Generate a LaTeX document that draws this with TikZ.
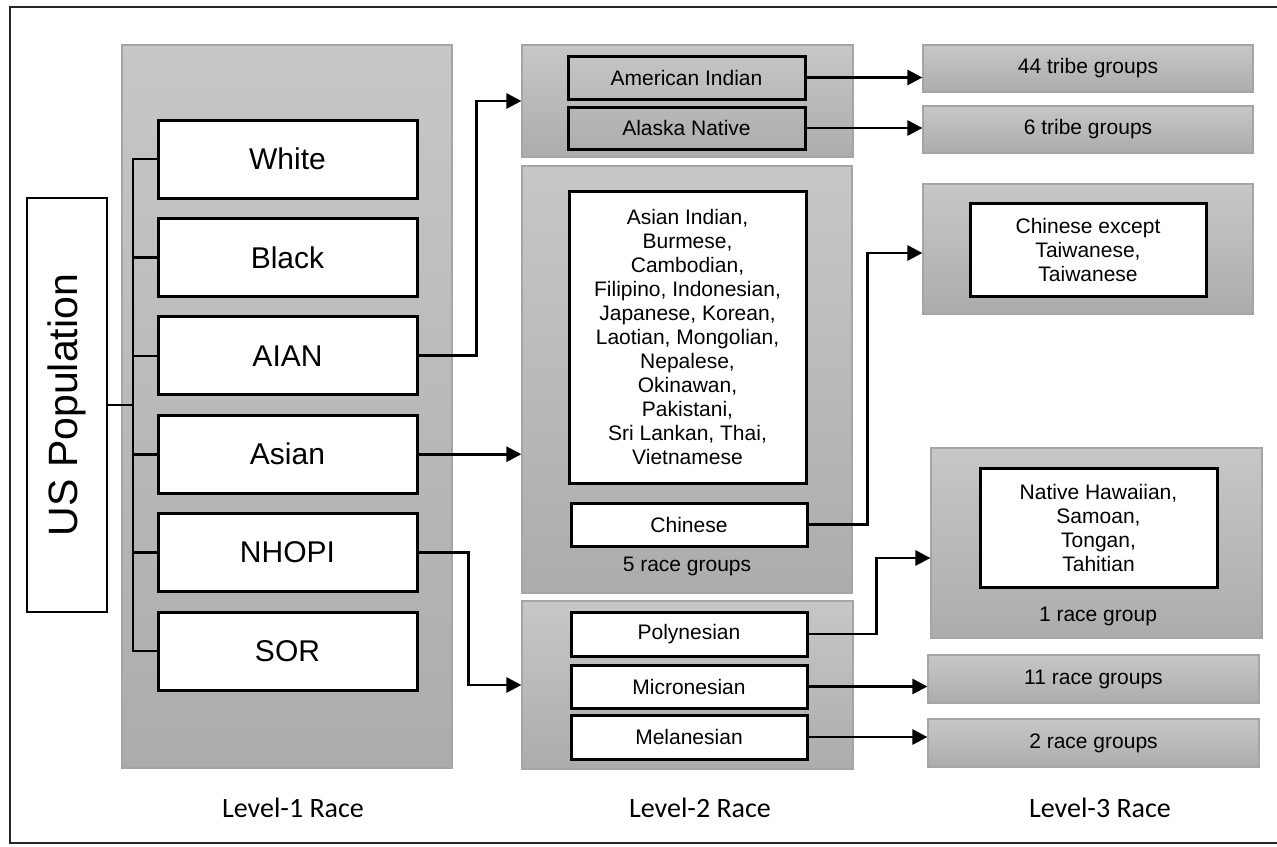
\documentclass[tikz,border=0pt]{standalone}
\usepackage{fontspec}
\setmainfont{Liberation Sans}
\newfontfamily\calib{Carlito}
\usetikzlibrary{arrows.meta,calc}
\definecolor{ptop}{RGB}{199,199,199}
\definecolor{pbot}{RGB}{172,172,172}
\definecolor{pborder}{RGB}{165,165,165}
\tikzset{
  panel/.style={rectangle, top color=ptop, bottom color=pbot, draw=pborder, line width=1.2pt, inner sep=0pt},
  wbox/.style={rectangle, draw=black, fill=white, line width=3pt, inner sep=0pt, align=center, font=\fontsize{21}{24}\selectfont},
  gbox/.style={rectangle, draw=black, line width=3pt, inner sep=0pt, align=center, font=\fontsize{21}{24}\selectfont},
  bigbox/.style={wbox, minimum width=259pt, minimum height=78pt, font=\fontsize{30}{34}\selectfont},
  conn/.style={line width=2.8pt, -{Triangle[length=15pt,width=15pt]}},
  tree/.style={line width=2.6pt},
  lvl/.style={font=\calib\fontsize{28}{32}\selectfont},
  small/.style={font=\fontsize{21}{24}\selectfont}
}
\begin{document}
\begin{tikzpicture}[x=1pt,y=-1pt]
\useasboundingbox (0,0) rectangle (1277,846);
% outer frame
\draw[line width=2.4pt, black!85] (1290,7) -- (10,7) -- (10,843) -- (1290,843);

% Level-1
\node[panel, minimum width=330pt, minimum height=723pt] (l1) at (287,406.5) {};
\node[wbox, line width=2.2pt, minimum width=80pt, minimum height=414pt] (us) at (67,405) {\rotatebox{90}{\fontsize{41}{46}\selectfont US Population}};
\node[bigbox] (white) at (287.5,159) {White};
\node[bigbox] (black) at (287.5,257.4) {Black};
\node[bigbox] (aian)  at (287.5,355.8) {AIAN};
\node[bigbox] (asian) at (287.5,454.2) {Asian};
\node[bigbox] (nhopi) at (287.5,552.6) {NHOPI};
\node[bigbox] (sor)   at (287.5,651) {SOR};
\coordinate (trunk) at (133,406);
\draw[tree] (white.west) -| (trunk) |- (sor.west);
\foreach \n in {black,aian,asian,nhopi} \draw[tree] (\n.west) -- (\n.west -| trunk);
\draw[tree] (us.east) -- (us.east -| trunk);

% Level-2
\node[panel, minimum width=331pt, minimum height=112pt] (l2top) at (687.5,101) {};
\node[gbox, minimum width=237pt, minimum height=43pt] (ai) at (686.5,77.5) {American Indian};
\node[gbox, minimum width=237pt, minimum height=42pt] (an) at (686.5,128) {Alaska Native};

\node[panel, minimum width=330pt, minimum height=427pt] (l2mid) at (687,379.5) {};
\node[wbox, minimum width=237pt, minimum height=292pt] (alist) at (687.5,337) {Asian Indian,\\Burmese,\\Cambodian,\\Filipino, Indonesian,\\Japanese, Korean,\\Laotian, Mongolian,\\Nepalese,\\Okinawan,\\Pakistani,\\Sri Lankan, Thai,\\Vietnamese};
\node[wbox, minimum width=236pt, minimum height=43pt] (chinese) at (689,524.5) {Chinese};
\node[small] (five) at (687,566) {5 race groups};

\node[panel, minimum width=331pt, minimum height=168pt] (l2bot) at (687.5,685) {};
\node[wbox, minimum width=236pt, minimum height=44pt] (poly) at (689,634) {Polynesian};
\node[wbox, minimum width=236pt, minimum height=43pt] (micro) at (689,686.5) {Micronesian};
\node[wbox, minimum width=236pt, minimum height=44pt] (mela) at (689,737) {Melanesian};

% Level-3
\node[panel, small, minimum width=330pt, minimum height=47pt] (t44) at (1088,68.5) {44 tribe groups};
\node[panel, small, minimum width=330pt, minimum height=47pt] (t6) at (1088,129.5) {6 tribe groups};
\node[panel, minimum width=330pt, minimum height=130pt] (chp) at (1088,249) {};
\node[wbox, minimum width=236pt, minimum height=93pt] (chin) at (1088,249.5) {Chinese except\\Taiwanese,\\Taiwanese};
\node[panel, minimum width=331pt, minimum height=190pt] (nhp) at (1096.5,543) {};
\node[wbox, minimum width=237pt, minimum height=119pt] (nhin) at (1098.5,527.5) {Native Hawaiian,\\Samoan,\\Tongan,\\Tahitian};
\node[small] (one) at (1098,616) {1 race group};
\node[panel, small, minimum width=331pt, minimum height=48pt] (r11) at (1093.5,679) {11 race groups};
\node[panel, small, minimum width=331pt, minimum height=48pt] (r2) at (1093.5,743) {2 race groups};

% connectors
\draw[conn] (aian.east) -- ++(58,0) |- (l2top.west);
\draw[conn] (asian.east) -- (asian.east -| l2mid.west);
\draw[conn] (nhopi.east) -- ++(50,0) |- (l2bot.west);
\draw[conn] (ai.east) -- (ai.east -| t44.west);
\draw[conn] (an.east) -- (an.east -| t6.west);
\draw[conn] (chinese.east) -- ++(59,0) |- ($(chp.west)+(0,4)$);
\draw[conn] (poly.east) -- ++(68,0) |- ($(nhp.west)+(0,15)$);
\draw[conn] (micro.east) -- (micro.east -| r11.west);
\draw[conn] (mela.east) -- (mela.east -| r2.west);

% level labels
\node[lvl] (lv1) at (293,808) {Level-1 Race};
\node[lvl] (lv2) at (700,808) {Level-2 Race};
\node[lvl] (lv3) at (1100,808) {Level-3 Race};
\end{tikzpicture}
\end{document}
